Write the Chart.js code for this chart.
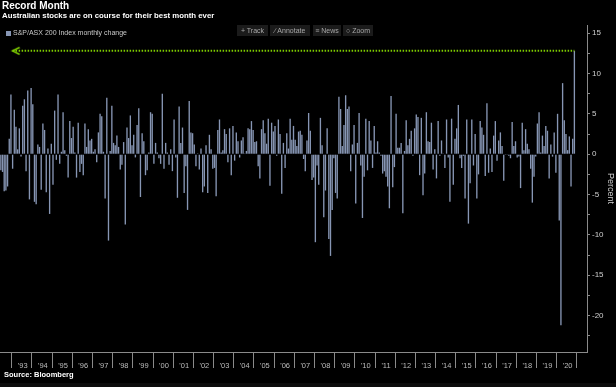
<!DOCTYPE html>
<html>
<head>
<meta charset="utf-8">
<script src="https://cdn.jsdelivr.net/npm/chart.js@4/dist/chart.umd.min.js"></script>
<style>
  html, body { margin: 0; padding: 0; background: #000; }
  #wrap { position: relative; width: 616px; height: 387px; background: #000; overflow: hidden;
          font-family: "Liberation Sans", Arial, sans-serif; }
  #chart { position: absolute; left: 0; top: 0; }
  .txt { position: absolute; white-space: nowrap; line-height: 1; }
  #title { left: 2px; top: 1px; font-size: 10px; font-weight: bold; color: #fff; }
  #subtitle { left: 2px; top: 12px; font-size: 7.8px; font-weight: bold; color: #fff; }
  #legend { left: 6px; top: 29px; font-size: 7px; color: #c8c8c8; }
  #legend span.sw { display: inline-block; width: 5px; height: 5px; background: #8796b4; margin-right: 2px; vertical-align: -0.5px; }
  .btn { position: absolute; top: 25px; height: 11px; background: #1b1b1b; color: #a8a8a8;
         font-size: 7px; line-height: 11px; text-align: center; }
  #source { left: 4px; top: 371px; font-size: 7.5px; font-weight: bold; color: #fff; }
  #strip { position: absolute; left: 0; top: 383px; width: 616px; height: 4px; background: #0c0c0c; }
</style>
</head>
<body>
<div id="wrap">
  <canvas id="chart" width="616" height="387"></canvas>
  <div class="txt" id="title">Record Month</div>
  <div class="txt" id="subtitle">Australian stocks are on course for their best month ever</div>
  <div class="txt" id="legend"><span class="sw"></span>S&amp;P/ASX 200 Index monthly change</div>
  <div class="btn" style="left:237px;width:31px;">+ Track</div>
  <div class="btn" style="left:270px;width:40px;">&#8725; Annotate</div>
  <div class="btn" style="left:313px;width:28px;">&#8801; News</div>
  <div class="btn" style="left:343px;width:30px;">&#9675; Zoom</div>
  <div class="txt" id="source">Source: Bloomberg</div>
  <div id="strip"></div>
</div>
<script>
// S&P/ASX 200 monthly change, percent (Jun 1992 - Nov 2020), one row per year
const changes1990s = [
  -2.0, -2.2, -4.6, -4.5, -4.0, 1.9, 7.4,                        // 1992 Jun-Dec
  -1.8, 5.5, 3.4, 0.6, 3.2, -0.3, 6.0, 6.8, -2.1, 7.9, -5.6, 8.2,  // 1993
  6.2, -5.9, -6.2, 1.2, 0.9, -4.4, 3.8, 3.0, -4.7, 0.7, -7.4, 1.3, // 1994
  -3.8, 5.4, -0.7, 7.4, -1.2, 0.3, 5.2, 0.5, -0.2, -2.9, 4.1, 2.0, // 1995
  3.4, 0.2, -2.9, 3.9, -2.2, -1.2, -2.6, 3.8, 0.9, 3.1, 1.7, 1.9,  // 1996
  0.3, 0.6, -1.0, 2.7, 5.0, 4.7, 0.3, -5.5, 7.0, -10.7, 0.4, 6.0,  // 1997
  1.4, 1.1, 2.3, 0.9, -1.9, -1.3, 1.5, -8.7, 3.3, 2.0, 4.8, 1.1,   // 1998
  2.4, -0.4, 3.6, 5.7, -5.3, 2.6, 1.6, -2.6, -2.0, 0.2, 5.2, 5.0   // 1999
];
const changes2000s = [
  -1.2, 1.4, 0.2, -0.5, -1.2, 7.5, -1.8, 1.4, 0.2, -1.3, 0.6, -2.1, // 2000
  4.3, -0.4, -5.4, 5.9, 1.4, 3.3, -4.8, -1.5, -6.9, 6.6, 2.7, 2.6,  // 2001
  1.2, -1.5, 0.1, -1.9, 0.7, -4.7, -4.0, 1.1, -4.8, 2.4, 0.6, -1.8, // 2002
  -1.7, -5.2, 3.0, 4.3, 0.2, 0.5, 3.1, 2.5, -1.0, 3.2, -2.6, 3.5,   // 2003
  -0.8, 2.7, 1.6, -0.4, 1.7, 2.1, 0.1, 0.4, 3.2, 3.1, 4.1, 3.0,     // 2004
  1.5, 1.6, -1.5, -3.0, 3.1, 4.2, 2.6, 1.3, 4.4, -3.9, 3.9, 2.8,    // 2005
  3.5, -0.2, 4.3, 2.5, -4.9, 1.4, -1.7, 2.6, 0.7, 4.4, 1.8, 3.5,    // 2006
  1.8, 1.0, 2.8, 2.9, 2.4, -0.6, -2.1, 1.7, 5.1, 2.9, -3.2, -2.9,   // 2007
  -10.9, -1.4, -3.8, 4.5, 1.1, -7.8, -4.5, 3.2, -10.5, -12.6, -6.9, -0.5, // 2008
  -4.8, -5.5, 7.1, 5.6, 1.0, 3.6, 7.3, 5.6, 5.9, -2.1, 1.2, 3.6     // 2009
];
const changes2010s = [
  -6.1, 1.4, 5.1, -1.4, -7.9, -2.8, 4.4, -2.0, 4.1, 1.7, -1.7, 3.5, // 2010
  0.2, 1.6, 0.2, -0.2, -2.4, -2.1, -2.8, -4.0, -6.7, 7.2, -4.1, -1.6, // 2011
  5.0, 0.8, 0.8, 1.4, -7.3, 0.4, 4.2, 1.1, 1.9, 2.9, -0.2, 3.2,     // 2012
  4.9, 4.6, -2.6, 4.5, -5.1, -2.4, 5.2, 1.6, 1.5, 3.9, -1.9, 0.6,   // 2013
  -3.0, 4.1, -0.2, 1.7, 0.1, -1.7, 4.3, -0.4, -5.9, 4.4, -3.8, 1.9, // 2014
  3.2, 6.1, -0.5, -1.7, -0.2, -5.5, 4.3, -8.6, -3.6, 4.3, -1.4, 2.5, // 2015
  -5.5, -2.5, 4.1, 3.3, 2.4, -2.7, 6.3, -2.3, 0.7, -2.2, 2.3, 4.1,  // 2016
  -0.8, 1.7, 2.7, 1.0, -3.3, -0.1, -0.1, -0.2, -0.5, 4.0, 1.0, 1.6, // 2017
  -0.4, -0.3, -4.2, 3.9, 0.5, 3.1, 1.3, 0.6, -1.8, -6.0, -2.8, -0.3, // 2018
  3.8, 5.2, 0.2, 2.3, 1.0, 3.5, 2.9, -3.0, 1.2, -0.3, 2.7, -2.3     // 2019
];
const changes2020 = [5.0, -8.2, -21.2, 8.8, 4.2, 2.5, 0.5, 2.2, -4.0, 1.9, 12.8];

// x categories: Jun 1992 .. Jun 2021 (axis runs a little past the last bar)
const months = [];
for (let y = 1992; y <= 2021; y++) {
  for (let m = 1; m <= 12; m++) {
    if (y === 1992 && m < 6) continue;
    if (y === 2021 && m > 6) continue;
    months.push(y + '-' + (m < 10 ? '0' + m : m));
  }
}
const yearLabels = ["'93", "'94", "'95", "'96", "'97", "'98", "'99", "'00", "'01", "'02",
  "'03", "'04", "'05", "'06", "'07", "'08", "'09", "'10", "'11", "'12",
  "'13", "'14", "'15", "'16", "'17", "'18", "'19", "'20"];
const yTickLabels = [15, 10, 5, 0, -5, -10, -15, -20];

const allChanges = changes1990s.concat(changes2000s, changes2010s, changes2020);
const lastIndex = allChanges.length - 1;
const arrowIndex = months.indexOf('1993-01');
// dotted "record" line from the latest bar back to 1993
const recordLine = months.map((m, i) => (i === arrowIndex || i === lastIndex) ? allChanges[lastIndex] : null);

const barColor = '#8796b4';
const green = '#7dc900';
const axisColor = '#8a8a8a';
const fontFamily = '"Liberation Sans", Arial, sans-serif';

// left-pointing chevron used as the point style at the start of the line
const arrow = document.createElement('canvas');
arrow.width = 16;
arrow.height = 10;
const ac = arrow.getContext('2d');
ac.strokeStyle = green;
ac.lineWidth = 1.6;
ac.beginPath();
ac.moveTo(15, 1.5);
ac.lineTo(8, 5);
ac.lineTo(15, 8.5);
ac.stroke();

Chart.defaults.font.family = fontFamily;

new Chart(document.getElementById('chart').getContext('2d'), {
  type: 'bar',
  data: {
    labels: months,
    datasets: [{
      type: 'line',
      data: recordLine,
      borderColor: green,
      borderWidth: 2,
      borderDash: [1.5, 1.5],
      spanGaps: true,
      pointStyle: arrow,
      pointRadius: c => c.dataIndex === arrowIndex ? 5 : 0,
      pointHoverRadius: 0,
      order: 0
    }, {
      data: allChanges,
      backgroundColor: barColor,
      barPercentage: 0.8,
      categoryPercentage: 1,
      order: 1
    }]
  },
  options: {
    responsive: false,
    animation: false,
    layout: { padding: { top: 25, left: 0, right: 0, bottom: 0 } },
    plugins: {
      legend: { display: false },
      tooltip: { enabled: false }
    },
    scales: {
      x: {
        grid: {
          offset: true,
          drawOnChartArea: false,
          tickLength: 16,
          color: c => (months[c.index] && months[c.index].endsWith('-01')) ? axisColor : 'rgba(0,0,0,0)'
        },
        border: { color: axisColor },
        ticks: {
          autoSkip: false,
          maxRotation: 0,
          minRotation: 0,
          padding: -7,
          color: '#bdbdbd',
          font: { size: 7.5 },
          callback: function(value, index) {
            const lab = months[index];
            if (lab && lab.endsWith('-07')) {
              const y = +lab.slice(0, 4);
              if (y >= 1993 && y <= 2020) return yearLabels[y - 1993];
            }
            return '';
          }
        },
        afterFit: s => { s.height = 35; }
      },
      y: {
        position: 'right',
        min: -24.5,
        max: 16,
        grid: { drawOnChartArea: false, tickLength: 3, color: axisColor },
        border: { color: axisColor },
        ticks: {
          stepSize: 2.5,
          includeBounds: false,
          padding: 2,
          color: '#cfcfcf',
          font: { size: 8 },
          callback: v => yTickLabels.includes(v) ? String(v) : ''
        },
        title: { display: true, text: 'Percent', color: '#cfcfcf', font: { size: 9 }, padding: 0 },
        afterFit: s => { s.width = 29; }
      }
    }
  }
});
</script>
</body>
</html>
